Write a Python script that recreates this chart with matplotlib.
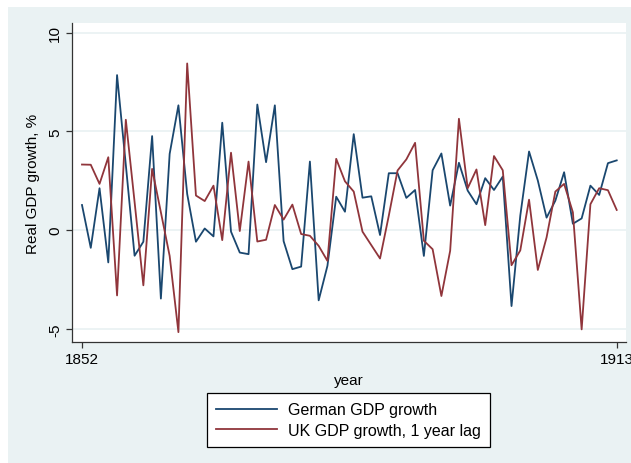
import numpy as np
import matplotlib
matplotlib.use("Agg")
import matplotlib.pyplot as plt
from matplotlib.patches import Rectangle

plt.rcParams["font.family"] = ["Liberation Sans", "DejaVu Sans"]

years = list(range(1852, 1914))
german_growth = [
    1.27, -0.90, 2.12, -1.64, 7.85, 3.30, -1.30, -0.59, 4.76, -3.47,
    3.86, 6.32, 1.83, -0.59, 0.08, -0.32, 5.44, -0.08, -1.14, -1.22,
    6.36, 3.44, 6.32, -0.56, -1.98, -1.85, 3.47, -3.56, -1.81, 1.69,
    0.93, 4.86, 1.64, 1.71, -0.25, 2.88, 2.88, 1.63, 2.03, -1.31,
    3.03, 3.88, 1.24, 3.41, 2.00, 1.31, 2.63, 2.03, 2.71, -3.85,
    0.73, 3.98, 2.51, 0.63, 1.49, 2.93, 0.32, 0.59, 2.25, 1.78,
    3.39, 3.53,
]
uk_growth_lag = [
    3.32, 3.31, 2.34, 3.69, -3.31, 5.59, 1.42, -2.80, 3.10, 0.90,
    -1.31, -5.17, 8.44, 1.75, 1.47, 2.25, -0.51, 3.92, -0.05, 3.47,
    -0.58, -0.49, 1.27, 0.53, 1.29, -0.20, -0.29, -0.80, -1.56, 3.61,
    2.47, 1.95, -0.08, -0.76, -1.44, 0.73, 3.02, 3.58, 4.42, -0.54,
    -0.97, -3.34, -1.05, 5.64, 2.12, 3.07, 0.25, 3.75, 3.03, -1.78,
    -1.03, 1.54, -2.02, -0.37, 1.95, 2.34, 0.90, -5.03, 1.31, 2.12,
    2.02, 1.02,
]
y_ticks = [-5, 0, 5, 10]
x_ticks = [1852, 1913]

BG = "#EAF2F3"
fig = plt.figure(figsize=(6.31, 4.64), dpi=100, facecolor="white")
# Stata-style graph region behind everything
fig.patches.append(Rectangle((8 / 631, 0), 1, 1 - 8 / 464, transform=fig.transFigure,
                             facecolor=BG, edgecolor="none", zorder=-10))

ax = fig.add_axes([72 / 631, 1 - 343 / 464, (626 - 72) / 631, (343 - 24) / 464])
ax.set_facecolor("white")
ax.plot(years, german_growth, color="#1A476F", lw=1.3, label="German GDP growth")
ax.plot(years, uk_growth_lag, color="#90353B", lw=1.3, label="UK GDP growth, 1 year lag")

ax.set_xlim(1850.86, 1914.06)
ax.set_ylim(-5.67, 10.49)
ax.set_yticks(y_ticks)
ax.set_xticks(x_ticks)
ax.set_yticklabels([str(v) for v in y_ticks], rotation=90, va="center", fontsize=11)
ax.set_xticklabels([str(v) for v in x_ticks], fontsize=11)
ax.tick_params(length=4, width=0.9, color="#333333", pad=3)
ax.grid(axis="y", color=BG, lw=1.3)
ax.set_axisbelow(True)
for s in ("top", "right"):
    ax.spines[s].set_visible(False)
for s in ("left", "bottom"):
    ax.spines[s].set_color("#333333")
    ax.spines[s].set_linewidth(0.9)

ax.set_ylabel("Real GDP growth, %", fontsize=11, labelpad=6)
ax.set_xlabel("year", fontsize=11, labelpad=5)

leg = fig.legend(loc="center", bbox_to_anchor=(348.5 / 631, 1 - 421 / 464), fontsize=11.5,
                 frameon=True, fancybox=False, edgecolor="black", facecolor="white",
                 framealpha=1, handlelength=3.8, handletextpad=0.7, borderpad=0.55,
                 labelspacing=0.35, borderaxespad=0)
leg.get_frame().set_linewidth(0.9)

fig.savefig("out.png", dpi=100, facecolor=fig.get_facecolor())
